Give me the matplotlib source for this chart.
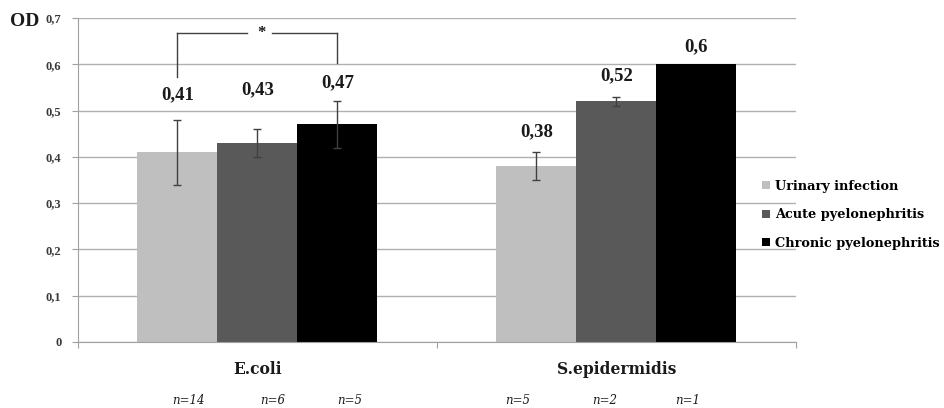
import matplotlib
matplotlib.use("Agg")
import matplotlib.pyplot as plt
import numpy as np

categories = ["E.coli", "S.epidermidis"]
series = ["Urinary infection", "Acute pyelonephritis", "Chronic pyelonephritis"]
values = [[0.41, 0.38], [0.43, 0.52], [0.47, 0.60]]
errors = [[0.07, 0.03], [0.03, 0.01], [0.05, 0.0]]
value_labels = [["0,41", "0,38"], ["0,43", "0,52"], ["0,47", "0,6"]]
n_labels = [["n=14", "n=5"], ["n=6", "n=2"], ["n=5", "n=1"]]
yticks = [0, 0.1, 0.2, 0.3, 0.4, 0.5, 0.6, 0.7]
ytick_labels = ["0", "0,1", "0,2", "0,3", "0,4", "0,5", "0,6", "0,7"]
colors = ["#bfbfbf", "#595959", "#000000"]

serif = ["Liberation Serif", "DejaVu Serif"]
wide_serif = ["DejaVu Serif"]
plt.rcParams["font.family"] = serif

fig = plt.figure(figsize=(9.45, 4.08), dpi=100)
ax = fig.add_axes([0.0825, 0.162, 0.7595, 0.794])

x = np.arange(len(categories))
w = 0.2228
label_off = [[25, 20], [39, 21], [19, 17]]
n_off = [[11, -19], [15, -12], [12, -9]]
for i, s in enumerate(series):
    pos = x + (i - 1) * w
    ax.bar(pos, values[i], width=w, color=colors[i], label=s, zorder=2)
    for j in range(len(categories)):
        if errors[i][j] > 0:
            ax.errorbar(pos[j], values[i][j], yerr=errors[i][j], fmt="none",
                        ecolor="#404040", elinewidth=1, capsize=3, capthick=1, zorder=3)
        top = values[i][j] + errors[i][j]
        ax.annotate(value_labels[i][j], (pos[j], top), xytext=(0, label_off[i][j]),
                    textcoords="offset pixels", ha="center", va="center",
                    fontsize=13.5, fontweight="bold", color="#1a1a1a")
        ax.annotate(n_labels[i][j], (pos[j], 0), xytext=(n_off[i][j], -59),
                    textcoords="offset pixels", ha="center", va="center",
                    fontsize=8.5, fontstyle="italic", color="#1a1a1a",
                    family=wide_serif)

ax.set_xlim(-0.5, 1.5)
ax.set_ylim(0, 0.7)
ax.set_yticks(yticks)
ax.set_yticklabels(ytick_labels, fontsize=9, fontweight="bold", color="#3a3a3a")
ax.yaxis.grid(True, color="#b0b0b0", linewidth=1, zorder=0)
ax.set_axisbelow(True)
ax.set_xticks([-0.5, 0.5, 1.5])
ax.set_xticklabels([])
ax.tick_params(axis="x", length=4, color="#a0a0a0")
ax.tick_params(axis="y", length=4, color="#a0a0a0", pad=8)
for j, c in enumerate(categories):
    ax.annotate(c, (x[j], 0), xytext=(0, -28), textcoords="offset pixels",
                ha="center", va="center", fontsize=11.2, fontweight="bold",
                color="#1a1a1a", family=wide_serif)
for sp in ["top", "right"]:
    ax.spines[sp].set_visible(False)
ax.spines["left"].set_color("#a0a0a0")
ax.spines["bottom"].set_color("#a0a0a0")

# significance bracket between urinary infection and chronic pyelonephritis (E.coli)
x1 = x[0] - w
x2 = x[0] + w
yb = 0.668
ax.plot([x1, x1], [0.572, yb], color="#404040", lw=1, zorder=4)
ax.plot([x2, x2], [0.602, yb], color="#404040", lw=1, zorder=4)
ax.plot([x1, x[0] - 0.03], [yb, yb], color="#404040", lw=1, zorder=4)
ax.plot([x[0] + 0.04, x2], [yb, yb], color="#404040", lw=1, zorder=4)
ax.text(x[0] + 0.012, yb, "*", ha="center", va="center", fontsize=12,
        fontweight="bold", color="#1a1a1a")

fig.text(0.011, 0.948, "OD", fontsize=14, fontweight="bold", color="#1a1a1a",
         ha="left", va="center")

leg = ax.legend(loc="center left", bbox_to_anchor=(0.946, 0.392), frameon=False,
                prop={"family": wide_serif, "weight": "bold", "size": 9.3},
                handlelength=0.6, handleheight=0.6, handletextpad=0.4,
                labelspacing=1.2, borderaxespad=0)

fig.savefig("out.png", dpi=100)
